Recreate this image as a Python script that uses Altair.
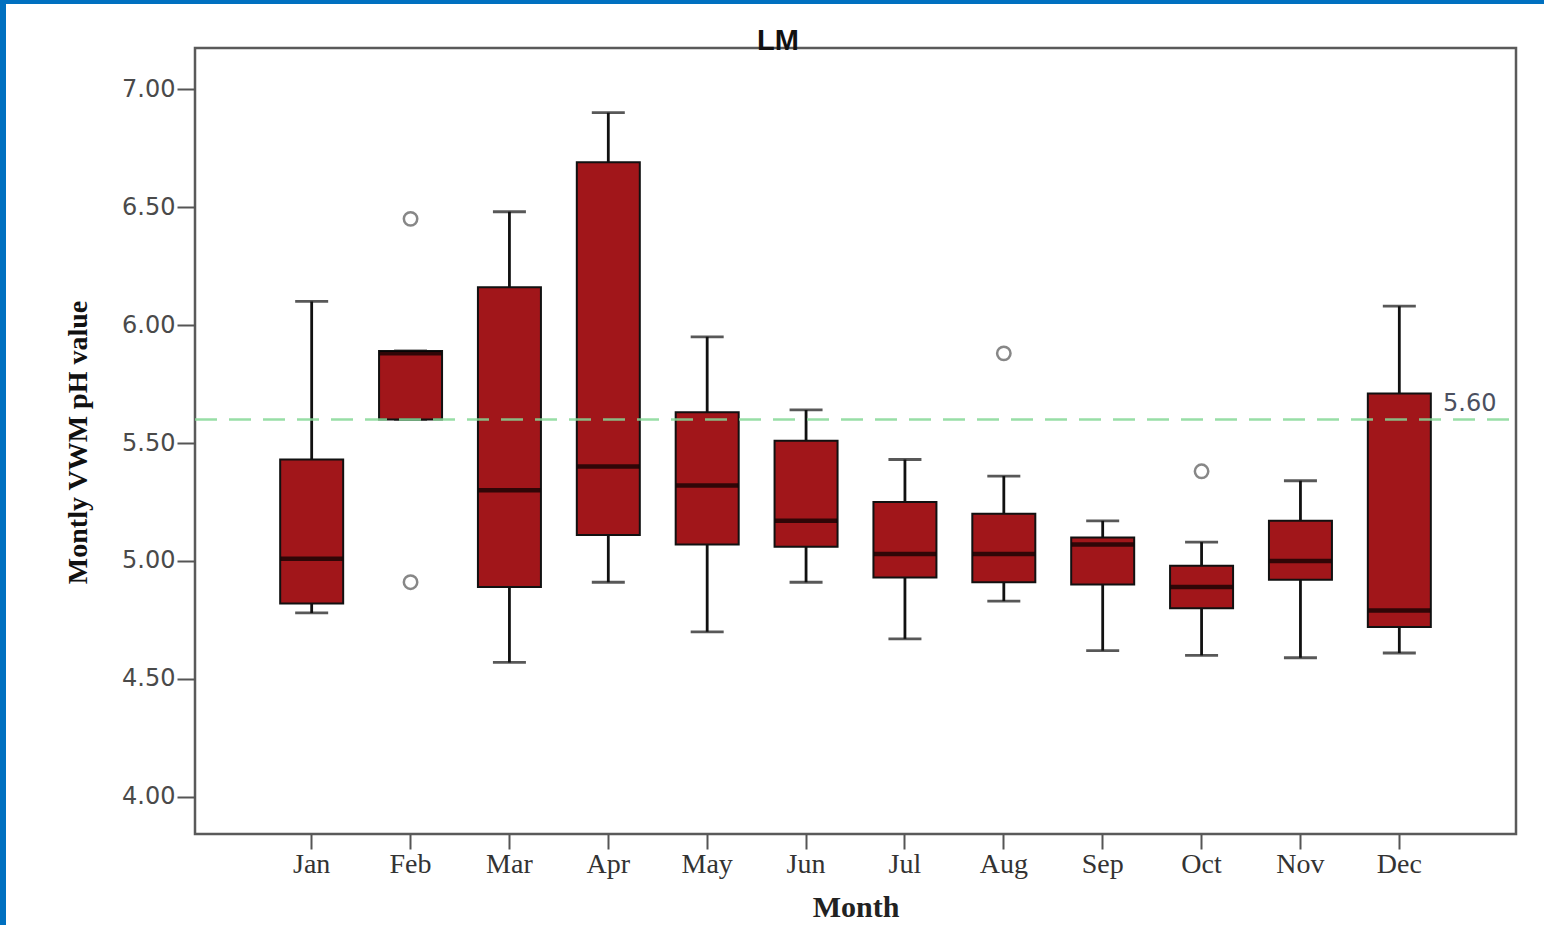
import altair as alt
import pandas as pd

# Monthly volume-weighted mean pH at LM: five-number summaries per month
months = ["Jan", "Feb", "Mar", "Apr", "May", "Jun",
          "Jul", "Aug", "Sep", "Oct", "Nov", "Dec"]
whisker_low = [4.78, 5.60, 4.57, 4.91, 4.70, 4.91, 4.67, 4.83, 4.62, 4.60, 4.59, 4.61]
q1 = [4.82, 5.60, 4.89, 5.11, 5.07, 5.06, 4.93, 4.91, 4.90, 4.80, 4.92, 4.72]
median = [5.01, 5.88, 5.30, 5.40, 5.32, 5.17, 5.03, 5.03, 5.07, 4.89, 5.00, 4.79]
q3 = [5.43, 5.89, 6.16, 6.69, 5.63, 5.51, 5.25, 5.20, 5.10, 4.98, 5.17, 5.71]
whisker_high = [6.10, 5.89, 6.48, 6.90, 5.95, 5.64, 5.43, 5.36, 5.17, 5.08, 5.34, 6.08]

# Outlying months
outlier_month = ["Feb", "Feb", "Aug", "Oct"]
outlier_value = [6.45, 4.91, 5.88, 5.38]

# Reference pH of natural rain
threshold = 5.60

boxes = pd.DataFrame({
    "month": months, "low": whisker_low, "q1": q1, "median": median,
    "q3": q3, "high": whisker_high,
})
outliers = pd.DataFrame({"month": outlier_month, "value": outlier_value})
ref = pd.DataFrame({"value": [threshold], "label": [f"{threshold:.2f}"]})

W, H = 1321, 786
LEFT, TOP = 195, 48
BOX_FILL = "#a1161a"

x_scale = alt.Scale(type="band", domain=months, paddingOuter=0.68, paddingInner=0)
x_enc = alt.X(
    "month:N", sort=months, scale=x_scale,
    axis=alt.Axis(
        title="Month", titleFont="Liberation Serif", titleFontSize=30,
        titleFontWeight="bold", titleColor="#222", titleY=82,
        titleBaseline="alphabetic",
        labelFont="Liberation Serif", labelFontSize=28, labelColor="#333",
        labelPadding=1, labelAngle=0, tickSize=15, tickWidth=2,
        tickColor="#555", domain=False, grid=False,
    ),
)
x_plain = alt.X("month:N", sort=months, scale=x_scale)
y_scale = alt.Scale(domain=[3.843, 7.174], nice=False, zero=False)
y_axis = alt.Axis(
    values=[4.0, 4.5, 5.0, 5.5, 6.0, 6.5, 7.0], format=".2f",
    title="Montly VWM pH value", titleFont="Liberation Serif",
    titleFontSize=28, titleFontWeight="bold", titleColor="#111",
    titleX=-103, titleY=394,
    labelFont="DejaVu Sans", labelFontSize=24, labelColor="#4a4a4a",
    labelPadding=2, tickSize=18, tickWidth=2, tickColor="#555",
    domain=False, grid=False,
)

base = alt.Chart(boxes)

whiskers = base.mark_rule(color="#111", strokeWidth=2.8).encode(
    x=x_enc, y=alt.Y("low:Q", scale=y_scale, axis=y_axis), y2="high:Q"
)
cap_low = base.mark_tick(color="#111", size=33, thickness=2.8).encode(
    x=x_plain, y="low:Q"
)
cap_high = base.mark_tick(color="#111", size=33, thickness=2.8).encode(
    x=x_plain, y="high:Q"
)
box = base.mark_bar(size=63, color=BOX_FILL, stroke="#111", strokeWidth=2).encode(
    x=x_plain, y="q1:Q", y2="q3:Q"
)
mid = base.mark_tick(color="#000", size=62, thickness=4.5).encode(
    x=x_plain, y="median:Q"
)
outlier_pts = alt.Chart(outliers).mark_point(
    shape="circle", filled=False, size=180, stroke="#555", strokeWidth=2.5
).encode(x=x_plain, y="value:Q")

ref_line = alt.Chart(ref).mark_rule(
    color="#86d896", strokeWidth=2.5, strokeDash=[22, 12], opacity=0.85
).encode(y="value:Q", x=alt.value(0), x2=alt.value(W))
ref_text = alt.Chart(ref).mark_text(
    align="left", baseline="alphabetic", dx=0, dy=-8,
    font="DejaVu Sans", fontSize=24, color="#4b5060",
).encode(y="value:Q", x=alt.value(1248), text="label:N")

title = alt.Chart(ref).mark_text(
    text="LM", font="Liberation Sans", fontSize=29, fontWeight="bold",
    color="#111", align="center", baseline="alphabetic",
).encode(x=alt.value(583), y=alt.value(2))

# Blue page border along the left and top edges
border_left = alt.Chart(ref).mark_rect(color="#0070c0").encode(
    x=alt.value(-LEFT), x2=alt.value(-LEFT + 6),
    y=alt.value(-TOP), y2=alt.value(925 - TOP),
)
border_top = alt.Chart(ref).mark_rect(color="#0070c0").encode(
    x=alt.value(-LEFT), x2=alt.value(1544 - LEFT),
    y=alt.value(-TOP), y2=alt.value(-TOP + 4),
)

chart = alt.layer(
    whiskers, cap_low, cap_high, box, mid, outlier_pts,
    ref_line, ref_text, title, border_left, border_top,
).properties(
    width=W, height=H,
    autosize=alt.AutoSizeParams(type="none"),
    padding={"left": LEFT, "top": TOP, "right": 1544 - LEFT - W, "bottom": 925 - TOP - H},
    background="white",
).configure_view(
    stroke="#5a5a5a", strokeWidth=2.5
)

chart.save("out.html", embed_options={"renderer": "svg", "actions": False})
